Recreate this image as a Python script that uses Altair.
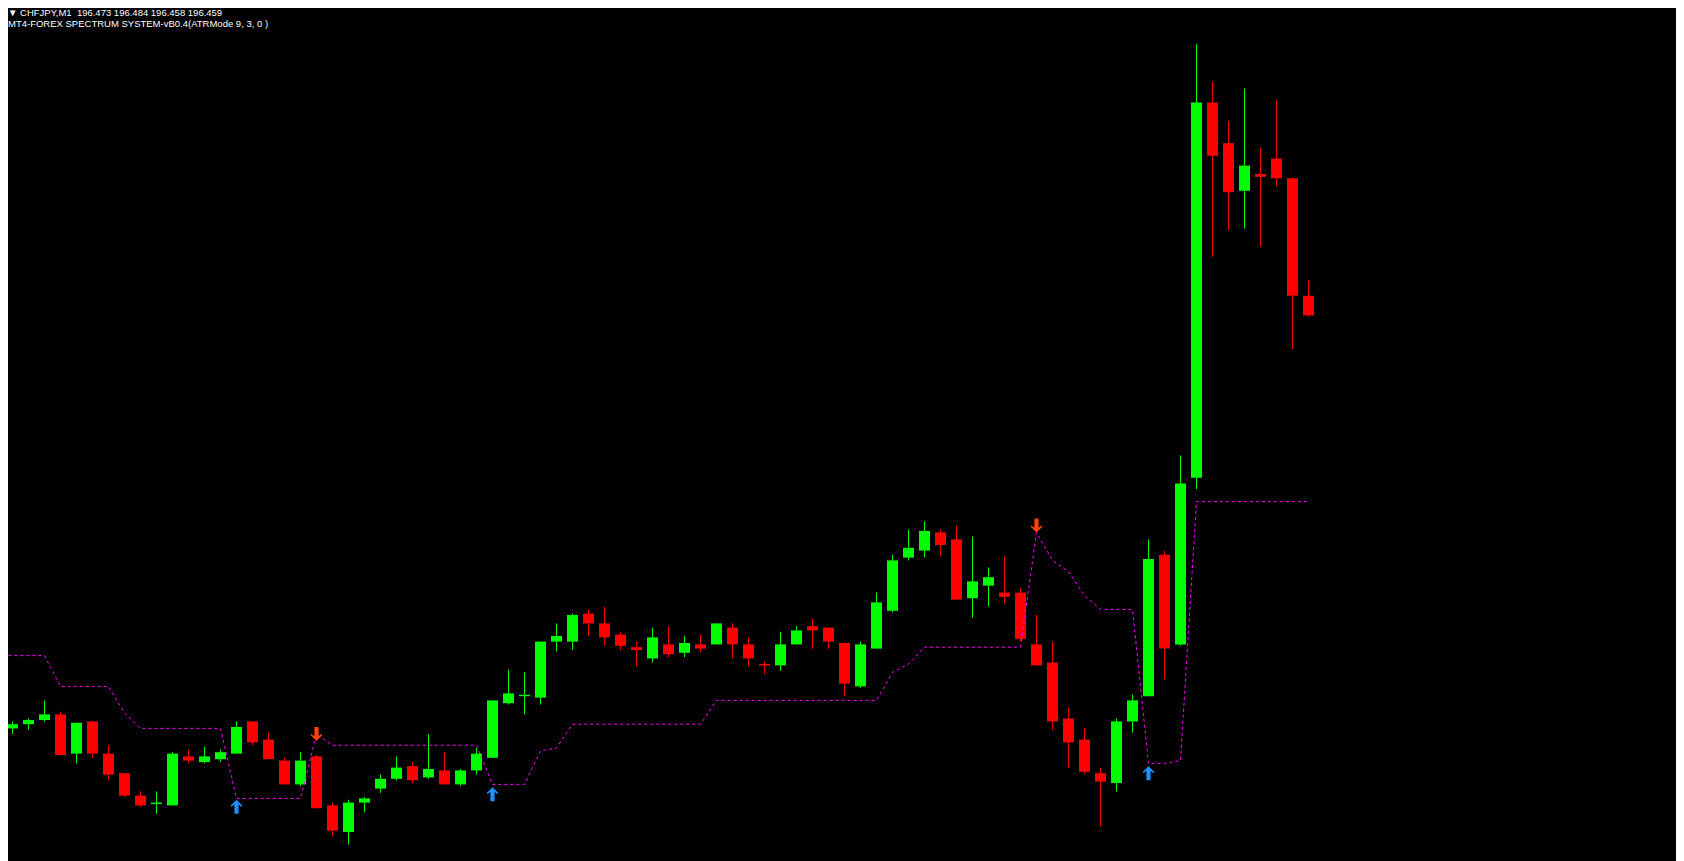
import altair as alt
import pandas as pd

# ---- data (CHFJPY, M1) ----
bar_index = list(range(-1, 82))

open_price = [196.180, 196.164, 196.167, 196.170, 196.174, 196.146, 196.169, 196.146, 196.132, 196.116,
              196.110, 196.109, 196.144, 196.140, 196.142, 196.146, 196.169, 196.156, 196.141, 196.124,
              196.144, 196.109, 196.090, 196.111, 196.121, 196.128, 196.137, 196.129, 196.134, 196.124,
              196.134, 196.143, 196.182, 196.187, 196.186, 196.226, 196.226, 196.246, 196.239, 196.231,
              196.222, 196.214, 196.224, 196.218, 196.224, 196.224, 196.236, 196.224, 196.210, 196.209,
              196.224, 196.237, 196.236, 196.225, 196.194, 196.221, 196.248, 196.286, 196.291, 196.304,
              196.299, 196.257, 196.266, 196.261, 196.261, 196.224, 196.211, 196.171, 196.156, 196.132,
              196.125, 196.169, 196.187, 196.288, 196.224, 196.343, 196.611, 196.582, 196.548, 196.560,
              196.571, 196.557, 196.473]

high_price = [196.180, 196.169, 196.171, 196.184, 196.176, 196.168, 196.169, 196.152, 196.132, 196.119,
              196.119, 196.147, 196.149, 196.151, 196.149, 196.169, 196.169, 196.161, 196.143, 196.147,
              196.145, 196.111, 196.113, 196.115, 196.131, 196.144, 196.140, 196.160, 196.147, 196.135,
              196.150, 196.184, 196.206, 196.204, 196.226, 196.239, 196.246, 196.249, 196.251, 196.233,
              196.226, 196.236, 196.237, 196.230, 196.231, 196.239, 196.239, 196.229, 196.212, 196.233,
              196.237, 196.242, 196.236, 196.225, 196.226, 196.261, 196.288, 196.306, 196.312, 196.306,
              196.309, 196.301, 196.279, 196.287, 196.264, 196.245, 196.226, 196.179, 196.164, 196.136,
              196.171, 196.188, 196.299, 196.291, 196.359, 196.653, 196.626, 196.598, 196.621, 196.579,
              196.613, 196.557, 196.484]

low_price = [196.166, 196.160, 196.163, 196.169, 196.145, 196.139, 196.143, 196.127, 196.115, 196.108,
             196.103, 196.109, 196.139, 196.139, 196.140, 196.146, 196.152, 196.142, 196.124, 196.123,
             196.107, 196.087, 196.081, 196.104, 196.118, 196.127, 196.125, 196.128, 196.124, 196.123,
             196.131, 196.143, 196.181, 196.174, 196.181, 196.219, 196.220, 196.230, 196.223, 196.220,
             196.208, 196.211, 196.215, 196.215, 196.218, 196.224, 196.214, 196.208, 196.203, 196.205,
             196.224, 196.221, 196.221, 196.187, 196.193, 196.221, 196.247, 196.284, 196.286, 196.287,
             196.256, 196.243, 196.251, 196.253, 196.226, 196.209, 196.163, 196.136, 196.131, 196.094,
             196.119, 196.161, 196.187, 196.199, 196.223, 196.335, 196.501, 196.520, 196.521, 196.508,
             196.551, 196.435, 196.458]

close_price = [196.166, 196.167, 196.170, 196.174, 196.145, 196.168, 196.146, 196.131, 196.116, 196.109,
               196.111, 196.146, 196.141, 196.144, 196.147, 196.165, 196.154, 196.142, 196.124, 196.141,
               196.107, 196.091, 196.111, 196.114, 196.128, 196.136, 196.127, 196.135, 196.124, 196.134,
               196.146, 196.184, 196.189, 196.188, 196.226, 196.230, 196.245, 196.239, 196.229, 196.223,
               196.220, 196.229, 196.217, 196.225, 196.221, 196.239, 196.224, 196.214, 196.209, 196.224,
               196.234, 196.234, 196.226, 196.196, 196.224, 196.254, 196.284, 196.293, 196.305, 196.295,
               196.256, 196.269, 196.272, 196.258, 196.228, 196.209, 196.169, 196.154, 196.133, 196.126,
               196.169, 196.184, 196.285, 196.221, 196.339, 196.611, 196.573, 196.547, 196.566, 196.558,
               196.557, 196.473, 196.459]

stop_line = [196.217,
             196.216, 196.216, 196.216,
             196.194, 196.194, 196.194, 196.194,
             196.175,
             196.164, 196.164, 196.164, 196.164, 196.164, 196.164,
             196.114, 196.114, 196.114, 196.114, 196.114,
             196.160,
             196.152, 196.152, 196.152, 196.152, 196.152, 196.152, 196.152, 196.152, 196.152, 196.152,
             196.124, 196.124, 196.124,
             196.148,
             196.150,
             196.167, 196.167, 196.167, 196.167, 196.167, 196.167, 196.167, 196.167, 196.167,
             196.184, 196.184, 196.184, 196.184, 196.184, 196.184, 196.184, 196.184, 196.184, 196.184, 196.184,
             196.204,
             196.210,
             196.222, 196.222, 196.222, 196.222, 196.222, 196.222, 196.222,
             196.304,
             196.284,
             196.276,
             196.259,
             196.249, 196.249, 196.249,
             196.139,
             196.139,
             196.141,
             196.326, 196.326, 196.326, 196.326, 196.326, 196.326, 196.326, 196.326]

arrow_bar = [14, 19, 30, 64, 71]
arrow_price = [196.108, 196.160, 196.117, 196.309, 196.132]
arrow_dir = ["up", "down", "up", "down", "up"]

price_ticks = [196.6712, 196.6474, 196.6200, 196.5962, 196.5729, 196.5450, 196.5212, 196.4938,
               196.4700, 196.4462, 196.4188, 196.3950, 196.3724, 196.3431, 196.3195, 196.2962,
               196.2684, 196.2450, 196.2212, 196.1934, 196.1700, 196.1462, 196.1184, 196.0950,
               196.0712]

header_line1 = "\u25bc CHFJPY,M1 \u00a0196.473 196.484 196.458 196.459"
header_line2 = "MT4-FOREX SPECTRUM SYSTEM-vB0.4(ATRMode 9, 3, 0 )"

# ---- layout ----
W, H = 1667, 853
x_dom = [-0.28125, 103.90625]
y_dom = [196.069286, 196.678571]

df = pd.DataFrame({"bar": bar_index, "open": open_price, "high": high_price,
                   "low": low_price, "close": close_price, "line": stop_line})

xs = alt.Scale(domain=x_dom, nice=False, zero=False)
ys = alt.Scale(domain=y_dom, nice=False, zero=False)
col = alt.Color("dir:N", scale=alt.Scale(domain=["up", "down"], range=["#00FF00", "#FF0000"]), legend=None)

base = alt.Chart(df).transform_calculate(
    lo="min(datum.open, datum.close)",
    hi="max(datum.open, datum.close)",
    x0="datum.bar - 0.34375",
    x1="datum.bar + 0.34375",
    dir="datum.close >= datum.open ? 'up' : 'down'",
)

price_axis = alt.Axis(
    orient="right", values=price_ticks, format=".3f", grid=False, zindex=2,
    domain=True, domainColor="#FFFFFF", domainWidth=1, domainOpacity=1,
    ticks=True, tickColor="#FFFFFF", tickSize=3, tickWidth=1, tickOpacity=1,
    labels=True, labelColor="#FFFFFF", labelFont="DejaVu Sans", labelFontSize=10, labelPadding=2,
    labelAlign="left", labelBaseline="middle", labelOverlap=False, labelFlush=False, title="")

bodies = base.mark_bar(clip=True).encode(
    x=alt.X("x0:Q", scale=xs, axis=None),
    x2="x1:Q",
    y=alt.Y("lo:Q", scale=ys, axis=price_axis),
    y2="hi:Q",
    color=col,
)

wicks = base.mark_rule(clip=True, strokeWidth=1).encode(
    x=alt.X("bar:Q", scale=xs, axis=None),
    y=alt.Y("low:Q", scale=ys, axis=None),
    y2="high:Q",
    color=col,
)

line = alt.Chart(df).mark_line(clip=True, color="#FF00FF", strokeWidth=1, strokeDash=[3, 3]).encode(
    x=alt.X("bar:Q", scale=xs, axis=None),
    y=alt.Y("line:Q", scale=ys, axis=None),
)

up_path = "M0,-1 L0.79,-0.22 L0.79,0.02 L0.3,-0.33 L0.3,1 L-0.3,1 L-0.3,-0.33 L-0.79,0.02 L-0.79,-0.22 Z"
down_path = "M0,1 L0.79,0.22 L0.79,-0.02 L0.3,0.33 L0.3,-1 L-0.3,-1 L-0.3,0.33 L-0.79,-0.02 L-0.79,0.22 Z"

arrows_df = pd.DataFrame({"bar": arrow_bar, "price": arrow_price, "dir": arrow_dir})
arrows_up = alt.Chart(arrows_df).transform_filter("datum.dir == 'up'").mark_point(
    filled=True, size=196, opacity=1, strokeWidth=0, shape=up_path, color="#1E90FF"
).encode(
    x=alt.X("bar:Q", scale=xs, axis=None),
    y=alt.Y("price:Q", scale=ys, axis=None),
)
arrows_down = alt.Chart(arrows_df).transform_filter("datum.dir == 'down'").mark_point(
    filled=True, size=196, opacity=1, strokeWidth=0, shape=down_path, color="#FF4500"
).encode(
    x=alt.X("bar:Q", scale=xs, axis=None),
    y=alt.Y("price:Q", scale=ys, axis=None),
)

hdr = pd.DataFrame({"t": [header_line1, header_line2], "row": [0, 1]})
header1 = alt.Chart(hdr).transform_filter("datum.row == 0").mark_text(
    align="left", baseline="alphabetic", color="#FFFFFF", font="Liberation Sans", fontSize=9.5
).encode(x=alt.value(0), y=alt.value(8), text="t:N")
header2 = alt.Chart(hdr).transform_filter("datum.row == 1").mark_text(
    align="left", baseline="alphabetic", color="#FFFFFF", font="Liberation Sans", fontSize=9.5
).encode(x=alt.value(0), y=alt.value(19), text="t:N")

chart = alt.layer(bodies, wicks, line, arrows_up, arrows_down, header1, header2).properties(
    width=W, height=H,
    autosize=alt.AutoSizeParams(type="none"),
    padding={"left": 0, "top": 0, "right": 1, "bottom": 0},
    background="#000000",
).configure_view(stroke=None, fill="#000000")

chart.save("out.html", embed_options={"renderer": "svg", "actions": False})
